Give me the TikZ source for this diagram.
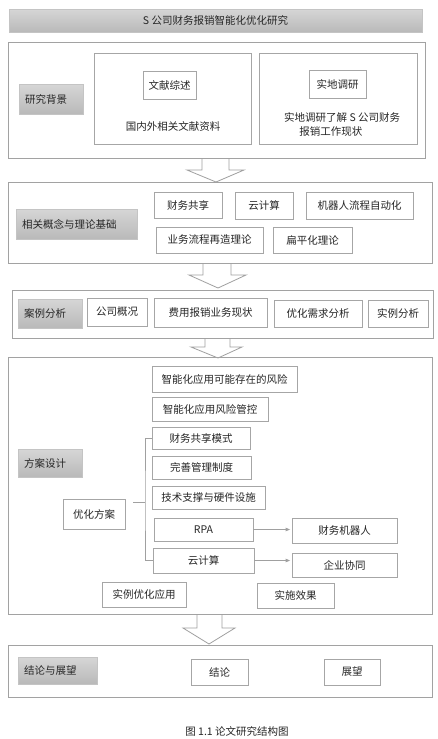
\documentclass[tikz,border=0pt]{standalone}
\usepackage{fontspec}
\setmainfont{Noto Sans CJK SC}
\usetikzlibrary{arrows.meta}
\definecolor{secc}{HTML}{A2A2A2}
\definecolor{boxc}{HTML}{A6A6A6}
\definecolor{linec}{HTML}{A0A0A0}
\definecolor{gtop}{HTML}{D6D6D6}
\definecolor{gbot}{HTML}{B9B9B9}
\definecolor{gbc}{HTML}{C4C4C4}
\definecolor{txt}{HTML}{262626}
\tikzset{
  sect/.style={draw=secc, line width=0.9pt, inner sep=0pt},
  bx/.style={draw=boxc, line width=0.8pt, fill=white, inner sep=0pt, text=txt},
  gb/.style={draw=gbc, line width=0.6pt, top color=gtop, bottom color=gbot, inner xsep=6pt, inner ysep=0pt, text=txt, align=left},
  plain/.style={inner sep=0pt, text=txt},
  conn/.style={draw=linec, line width=0.8pt},
  harrow/.style={draw=linec, line width=0.8pt, line join=miter},
  tarrow/.style={conn, -{Triangle[length=4.5pt,width=3.5pt]}, shorten >=1.5pt}
}
\begin{document}
\begin{tikzpicture}[x=1pt,y=-1pt, font=\fontsize{10.5}{13}\selectfont]
\useasboundingbox[fill=white] (0,0) rectangle (438,739);

% title
\node[draw=gbc, line width=0.6pt, top color=gtop, bottom color=gbot, inner sep=0pt, text=txt,
      minimum width=413pt, minimum height=23pt] (title) at (215.5,20.5) {S 公司财务报销智能化优化研究};

% ---- section 1
\node[sect, minimum width=417pt, minimum height=116pt] (s1) at (216.5,100) {};
\node[gb, minimum height=30pt, text width=52pt] (yjbj) at (51,99) {研究背景};
\node[bx, minimum width=157pt, minimum height=91pt] (litbox) at (172.5,98.5) {};
\node[bx, minimum width=53pt, minimum height=28pt] (wxzs) at (169.5,85) {文献综述};
\node[plain] (litt) at (173,126) {国内外相关文献资料};
\node[bx, minimum width=158pt, minimum height=91pt] (fldbox) at (338,98.5) {};
\node[bx, minimum width=57pt, minimum height=28pt] (sddy) at (337.5,84) {实地调研};
\node[plain, anchor=west, align=left, font=\fontsize{10.5}{14}\selectfont] (fldt) at (284,124)
  {实地调研了解 S 公司财务\\\hspace*{1.45em}报销工作现状};

% arrow 1
\draw[harrow] (202,158) -- (202,170) -- (187,170) -- (216,182) -- (244,170) -- (229,170) -- (229,158);

% ---- section 2
\node[sect, minimum width=424pt, minimum height=81pt] (s2) at (220,222.5) {};
\node[gb, minimum height=30pt, text width=109pt] (xggn) at (76.5,224) {相关概念与理论基础};
\node[bx, minimum width=68pt, minimum height=26pt] (cwgx) at (188,205) {财务共享};
\node[bx, minimum width=58pt, minimum height=27pt] (yjs) at (264,205.5) {云计算};
\node[bx, minimum width=107pt, minimum height=27pt] (jqr) at (359.5,205.5) {机器人流程自动化};
\node[bx, minimum width=107pt, minimum height=26pt] (ywlc) at (209.5,240) {业务流程再造理论};
\node[bx, minimum width=79pt, minimum height=26pt] (bph) at (312.5,240) {扁平化理论};

% arrow 2
\draw[harrow] (203,263) -- (203,275) -- (189,275) -- (218,288) -- (246,275) -- (231,275) -- (231,263);

% ---- section 3
\node[sect, minimum width=421pt, minimum height=48pt] (s3) at (222.5,314) {};
\node[gb, minimum height=29pt, text width=52pt] (alfx) at (50,313.5) {案例分析};
\node[bx, minimum width=60pt, minimum height=28pt] (gsgk) at (117,312) {公司概况};
\node[bx, minimum width=113pt, minimum height=29pt] (fybx) at (210.5,312.5) {费用报销业务现状};
\node[bx, minimum width=88pt, minimum height=27pt] (yhxq) at (318,313.5) {优化需求分析};
\node[bx, minimum width=60pt, minimum height=27pt] (slfx) at (398,313.5) {实例分析};

% arrow 3
\draw[harrow] (205,338) -- (205,347) -- (191,347) -- (218,358) -- (242,347) -- (230,347) -- (230,338);

% ---- section 4
\node[sect, minimum width=424pt, minimum height=257pt] (s4) at (220,485.5) {};
\node[gb, minimum height=28pt, text width=52pt] (fasj) at (50,463) {方案设计};
\node[bx, minimum width=145pt, minimum height=26pt] (fx1) at (224.5,379) {智能化应用可能存在的风险};
\node[bx, minimum width=116pt, minimum height=24pt] (fx2) at (210,409) {智能化应用风险管控};
\node[bx, minimum width=98pt, minimum height=22pt] (gxms) at (201,438) {财务共享模式};
\node[bx, minimum width=99pt, minimum height=23pt] (wszd) at (201.5,467.5) {完善管理制度};
\node[bx, minimum width=113pt, minimum height=23pt] (jszc) at (208.5,497.5) {技术支撑与硬件设施};
\node[bx, minimum width=99pt, minimum height=23pt] (rpa) at (203.5,529.5) {RPA};
\node[bx, minimum width=105pt, minimum height=25pt] (cwjqr) at (344.5,530.5) {财务机器人};
\node[bx, minimum width=101pt, minimum height=25pt] (yjs2) at (203.5,560.5) {云计算};
\node[bx, minimum width=105pt, minimum height=24pt] (qyxt) at (344.5,565) {企业协同};
\node[bx, minimum width=62pt, minimum height=30pt] (yhfa) at (94,514) {优化方案};
\node[bx, minimum width=84pt, minimum height=25pt] (slyh) at (144,594.5) {实例优化应用};
\node[bx, minimum width=77pt, minimum height=25pt] (ssxg) at (295.5,595.5) {实施效果};

\coordinate (bj) at (145,502);
\draw[conn] ([shift={(8,-12)}]yhfa.east) -- (bj);
\draw[conn] (gxms.west) -| (bj) |- (yjs2.west);
\draw[tarrow] (rpa.east) -- (rpa.east -| cwjqr.west);
\draw[tarrow] (yjs2.east) -- (yjs2.east -| qyxt.west);

% arrow 4
\draw[harrow] (197,614) -- (197,628) -- (183,628) -- (209,644) -- (235,628) -- (222,628) -- (222,614);

% ---- section 5
\node[sect, minimum width=424pt, minimum height=52pt] (s5) at (220,671) {};
\node[gb, minimum height=27pt, text width=67pt] (jlzw) at (57.5,670.5) {结论与展望};
\node[bx, minimum width=57pt, minimum height=26pt] (jl) at (219.5,672) {结论};
\node[bx, minimum width=56pt, minimum height=26pt] (zw) at (352,672) {展望};

% caption
\node[plain] (cap) at (237,731) {图 1.1 论文研究结构图};
\end{tikzpicture}
\end{document}
